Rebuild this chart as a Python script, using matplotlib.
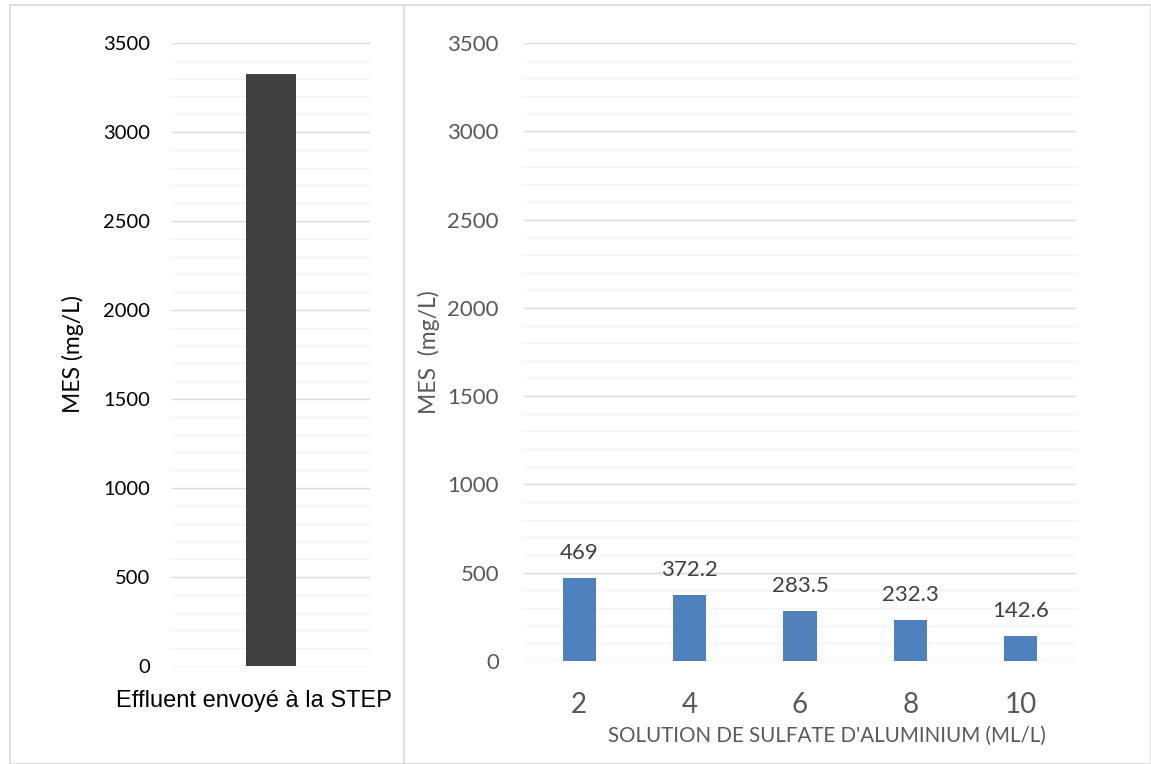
import matplotlib.pyplot as plt
from matplotlib.lines import Line2D
from matplotlib.patches import Rectangle
from matplotlib.transforms import ScaledTranslation

# left chart: effluent sent to the treatment plant
effluent_label = ["Effluent envoyé à la STEP"]
effluent_mes = [3325]

# right chart: MES after aluminium sulfate dosing
doses = ["2", "4", "6", "8", "10"]
mes_values = [469, 372.2, 283.5, 232.3, 142.6]
mes_labels = ["469", "372.2", "283.5", "232.3", "142.6"]

W, H = 1151, 764
fig = plt.figure(figsize=(W / 100, H / 100), dpi=100)

# frame around the two panels
fig.add_artist(Rectangle((10 / W, 0), (1141) / W, 1 - 5 / H, transform=fig.transFigure,
                         fill=False, edgecolor="#d9d9d9", linewidth=1.2))
fig.add_artist(Line2D([404 / W, 404 / W], [0, 1 - 5 / H], transform=fig.transFigure,
                      color="#d9d9d9", linewidth=1.2))


def style_axis(ax, tick_color, tick_font, tick_size, pad):
    for s in ax.spines.values():
        s.set_visible(False)
    ax.set_ylim(0, 3500)
    ax.set_yticks(range(0, 3501, 500))
    ax.set_yticks(range(0, 3501, 100), minor=True)
    ax.grid(axis="y", which="major", color="#d9d9d9", linewidth=1.0)
    ax.grid(axis="y", which="minor", color="#f2f2f2", linewidth=1.0)
    ax.set_axisbelow(True)
    ax.tick_params(axis="both", which="both", length=0)
    ax.tick_params(axis="y", pad=pad, labelcolor=tick_color, labelsize=tick_size)
    for lbl in ax.get_yticklabels():
        lbl.set_fontfamily(tick_font)


# left panel
ax1 = fig.add_axes([172 / W, 1 - 666 / H, 198 / W, 623 / H])
ax1.bar([0], effluent_mes, width=0.2525, color="#404040")
ax1.set_xlim(-0.5, 0.5)
style_axis(ax1, "black", "Lato", 14.5, 16)
ax1.set_xticks([0])
ax1.set_xticklabels(effluent_label, fontfamily="Liberation Sans", fontsize=17, color="black")
ax1.tick_params(axis="x", pad=17)
shift = ScaledTranslation(-17 / 100, 0, fig.dpi_scale_trans)
for lbl in ax1.get_xticklabels():
    lbl.set_transform(lbl.get_transform() + shift)
ax1.set_ylabel("MES (mg/L)", fontfamily="Lato", fontsize=16.5, color="black")
ax1.yaxis.set_label_coords(-0.445, 0.5)

# right panel
ax2 = fig.add_axes([524 / W, 1 - 661 / H, 552 / W, 618 / H])
x = range(len(doses))
ax2.bar(x, mes_values, width=0.3, color="#4f81bd")
ax2.set_xlim(-0.5, len(doses) - 0.5)
style_axis(ax2, "#595959", "Lato", 16, 18)
ax2.set_xticks(list(x))
ax2.set_xticklabels(doses, fontfamily="Lato", fontsize=20, color="#595959")
ax2.tick_params(axis="x", pad=22)
for xi, v, t in zip(x, mes_values, mes_labels):
    ax2.annotate(t, (xi, v), xytext=(0, 11), textcoords="offset points", ha="center",
                 va="bottom", fontfamily="Lato", fontsize=16, color="#404040")
ax2.set_xlabel("SOLUTION DE SULFATE D'ALUMINIUM (ML/L)", fontfamily="Lato",
               fontsize=14.8, color="#595959", labelpad=6)
ax2.xaxis.set_label_coords(0.549, -0.105)
ax2.set_ylabel("MES  (mg/L)", fontfamily="Lato", fontsize=16.5, color="#595959")
ax2.yaxis.set_label_coords(-0.152, 0.5)

fig.savefig("out.png", dpi=100)
